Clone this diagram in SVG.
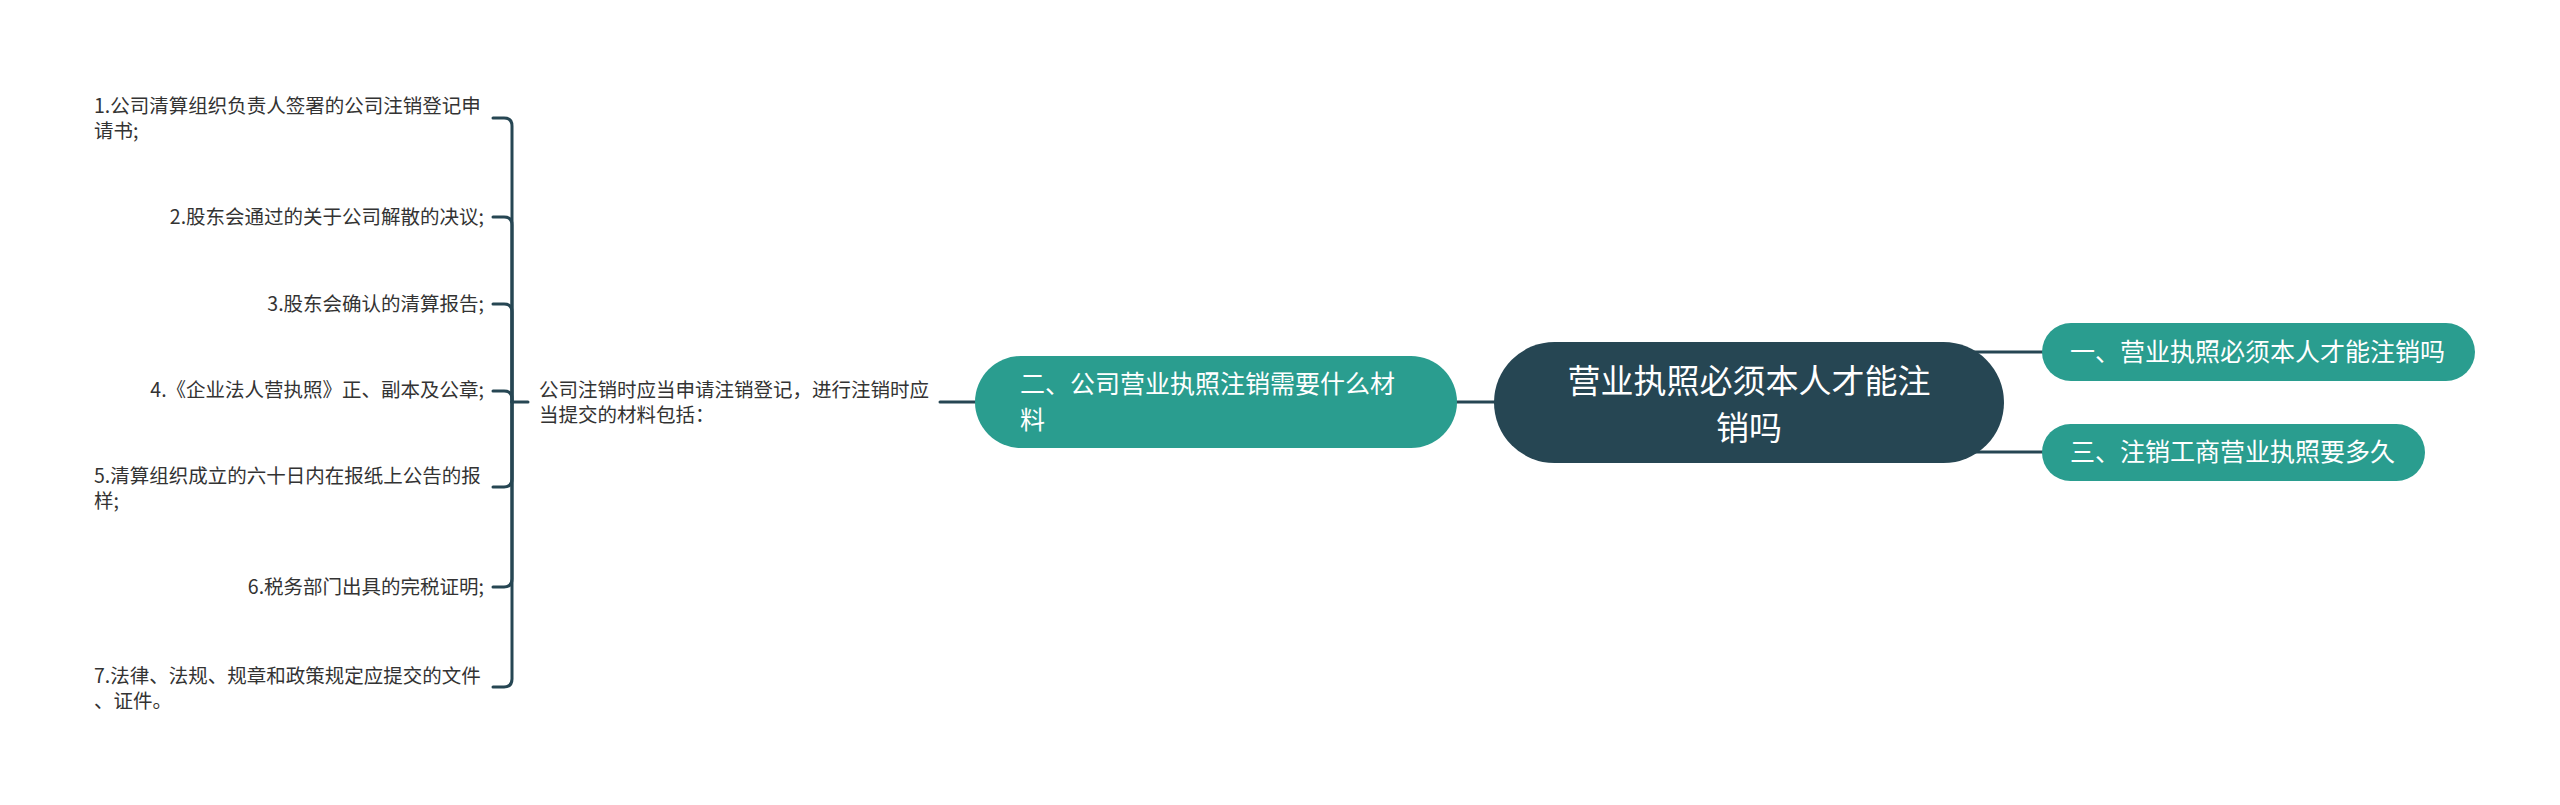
<svg xmlns="http://www.w3.org/2000/svg" width="2560" height="805" viewBox="0 0 2560 805">
<style>
text{font-family:"Noto Sans CJK SC","Noto Sans",sans-serif}
.conn{fill:none;stroke:#264653;stroke-width:3;stroke-linecap:round}
.root{fill:#264653}
.main{fill:#2a9d8f}
.wt{fill:#ffffff}
.it{fill:#333333;font-size:19.5px}
.rt{font-size:33px}
.mt{font-size:25px}
</style>
<rect width="2560" height="805" fill="#ffffff"/>
<g id="connectors">
<line class="conn" x1="1960" y1="352" x2="2044" y2="352"/>
<line class="conn" x1="1960" y1="452" x2="2044" y2="452"/>
<line class="conn" x1="1450" y1="402" x2="1500" y2="402"/>
<line class="conn" x1="940" y1="402" x2="980" y2="402"/>
<line class="conn" x1="512" y1="402" x2="528" y2="402"/>
<path class="conn" d="M512,402 L512,126 Q512,118 504,118 L493,118"/>
<path class="conn" d="M512,402 L512,225 Q512,217 504,217 L493,217"/>
<path class="conn" d="M512,402 L512,312 Q512,304 504,304 L493,304"/>
<path class="conn" d="M512,402 L512,399 Q512,391 504,391 L493,391"/>
<path class="conn" d="M512,402 L512,479 Q512,487 504,487 L493,487"/>
<path class="conn" d="M512,402 L512,579 Q512,587 504,587 L493,587"/>
<path class="conn" d="M512,402 L512,679 Q512,687 504,687 L493,687"/>
</g>
<g id="root">
<rect class="root" x="1494" y="342" width="510" height="121" rx="60.5"/>
<text class="wt rt" x="1749" y="393" text-anchor="middle">营业执照必须本人才能注</text>
<text class="wt rt" x="1749" y="440" text-anchor="middle">销吗</text>
</g>
<g id="node-1">
<rect class="main" x="2042" y="323" width="433" height="58" rx="29"/>
<text class="wt mt" x="2070" y="361">一、营业执照必须本人才能注销吗</text>
</g>
<g id="node-3">
<rect class="main" x="2042" y="424" width="383" height="57" rx="28.5"/>
<text class="wt mt" x="2070" y="461">三、注销工商营业执照要多久</text>
</g>
<g id="node-2">
<rect class="main" x="975" y="356" width="482" height="92" rx="46"/>
<text class="wt mt" x="1020" y="393">二、公司营业执照注销需要什么材</text>
<text class="wt mt" x="1020" y="429">料</text>
</g>
<g id="desc">
<text class="it" x="539" y="397">公司注销时应当申请注销登记，进行注销时应</text>
<text class="it" x="539" y="422">当提交的材料包括：</text>
</g>
<g id="item-1">
<text class="it" x="94" y="113">1.公司清算组织负责人签署的公司注销登记申</text>
<text class="it" x="94" y="138">请书;</text>
</g>
<g id="item-2">
<text class="it" x="484" y="224" text-anchor="end">2.股东会通过的关于公司解散的决议;</text>
</g>
<g id="item-3">
<text class="it" x="484" y="311" text-anchor="end">3.股东会确认的清算报告;</text>
</g>
<g id="item-4">
<text class="it" x="484" y="397" text-anchor="end">4.《企业法人营执照》正、副本及公章;</text>
</g>
<g id="item-5">
<text class="it" x="94" y="483">5.清算组织成立的六十日内在报纸上公告的报</text>
<text class="it" x="94" y="508">样;</text>
</g>
<g id="item-6">
<text class="it" x="484" y="594" text-anchor="end">6.税务部门出具的完税证明;</text>
</g>
<g id="item-7">
<text class="it" x="94" y="683">7.法律、法规、规章和政策规定应提交的文件</text>
<text class="it" x="94" y="708">、证件。</text>
</g>
</svg>
